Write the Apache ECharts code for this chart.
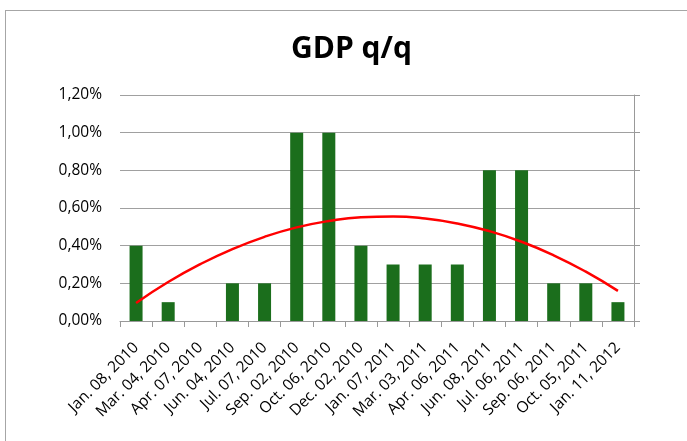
<!DOCTYPE html>
<html>
<head>
<meta charset="utf-8">
<script src="https://cdn.jsdelivr.net/npm/echarts@6/dist/echarts.min.js"></script>
<style>
  html, body { margin: 0; padding: 0; background: #fff; }
  #frame { position: absolute; left: 5px; top: 10px; width: 700px; height: 440px;
           border-left: 1px solid #a6a6a6; border-top: 1px solid #a6a6a6; }
  #gdp_chart { position: absolute; left: 0; top: 0; width: 687px; height: 441px; }
</style>
</head>
<body>
<div id="frame"></div>
<div id="gdp_chart"></div>
<script>
var categories = ['Jan. 08, 2010','Mar. 04, 2010','Apr. 07, 2010','Jun. 04, 2010','Jul. 07, 2010',
    'Sep. 02, 2010','Oct. 06, 2010','Dec. 02, 2010','Jan. 07, 2011','Mar. 03, 2011','Apr. 06, 2011',
    'Jun. 08, 2011','Jul. 06, 2011','Sep. 06, 2011','Oct. 05, 2011','Jan. 11, 2012'];
// GDP change in percent
var gdpValues = [0.4, 0.1, 0, 0.2, 0.2, 1.0, 1.0, 0.4, 0.3, 0.3, 0.3, 0.8, 0.8, 0.2, 0.2, 0.1];
// red trend curve
var trendValues = [0.096, 0.207, 0.302, 0.382, 0.447, 0.497, 0.531, 0.551,
    0.555, 0.544, 0.518, 0.477, 0.421, 0.349, 0.262, 0.160];
var yTicks = { min: 0, max: 1.2, step: 0.2 };

var gdp_chart = function()
{
    var draw = function() {
        var myChart = echarts.init(document.getElementById('gdp_chart'));
        var font = 'Open Sans';
        var option = {
            animation: false,
            title: {
                text: 'GDP q/q',
                left: 286,
                top: 29,
                textStyle: { fontFamily: font, fontSize: 30, fontWeight: 'bold', color: '#000' }
            },
            grid: { left: 120, right: 53, top: 95, bottom: 120 },
            xAxis: {
                type: 'category',
                data: categories,
                axisLine: { lineStyle: { color: '#999', width: 1 } },
                axisTick: { show: true, length: 6, lineStyle: { color: '#999' } },
                axisLabel: { interval: 0, rotate: 45, margin: 24, color: '#000',
                             fontFamily: font, fontSize: 15.5 }
            },
            yAxis: [{
                type: 'value',
                min: yTicks.min, max: yTicks.max, interval: yTicks.step,
                axisLine: { show: false },
                axisTick: { show: false },
                splitLine: { lineStyle: { color: '#a0a0a0', width: 1 } },
                axisLabel: {
                    margin: 18, color: '#000', fontFamily: font, fontSize: 15.5,
                    formatter: function (v) { return v.toFixed(2).replace('.', ',') + '%'; }
                }
            }, {
                type: 'value',
                position: 'right',
                min: yTicks.min, max: yTicks.max, interval: yTicks.step,
                axisLine: { show: true, lineStyle: { color: '#999' } },
                axisTick: { show: true, length: 6, lineStyle: { color: '#999' } },
                splitLine: { show: false },
                axisLabel: { show: false }
            }],
            series: [
                {
                    name: 'GDP q/q',
                    type: 'bar',
                    data: gdpValues,
                    barWidth: 13,
                    itemStyle: { color: '#1b6e1c' }
                },
                {
                    name: 'trend',
                    type: 'line',
                    data: trendValues,
                    smooth: true,
                    symbol: 'none',
                    lineStyle: { color: '#ff0000', width: 2.5 },
                    z: 5
                }
            ]
        };
        myChart.setOption(option);
    };

    return {
        init: function () { draw(); }
    };
}();

gdp_chart.init();
</script>
</body>
</html>
